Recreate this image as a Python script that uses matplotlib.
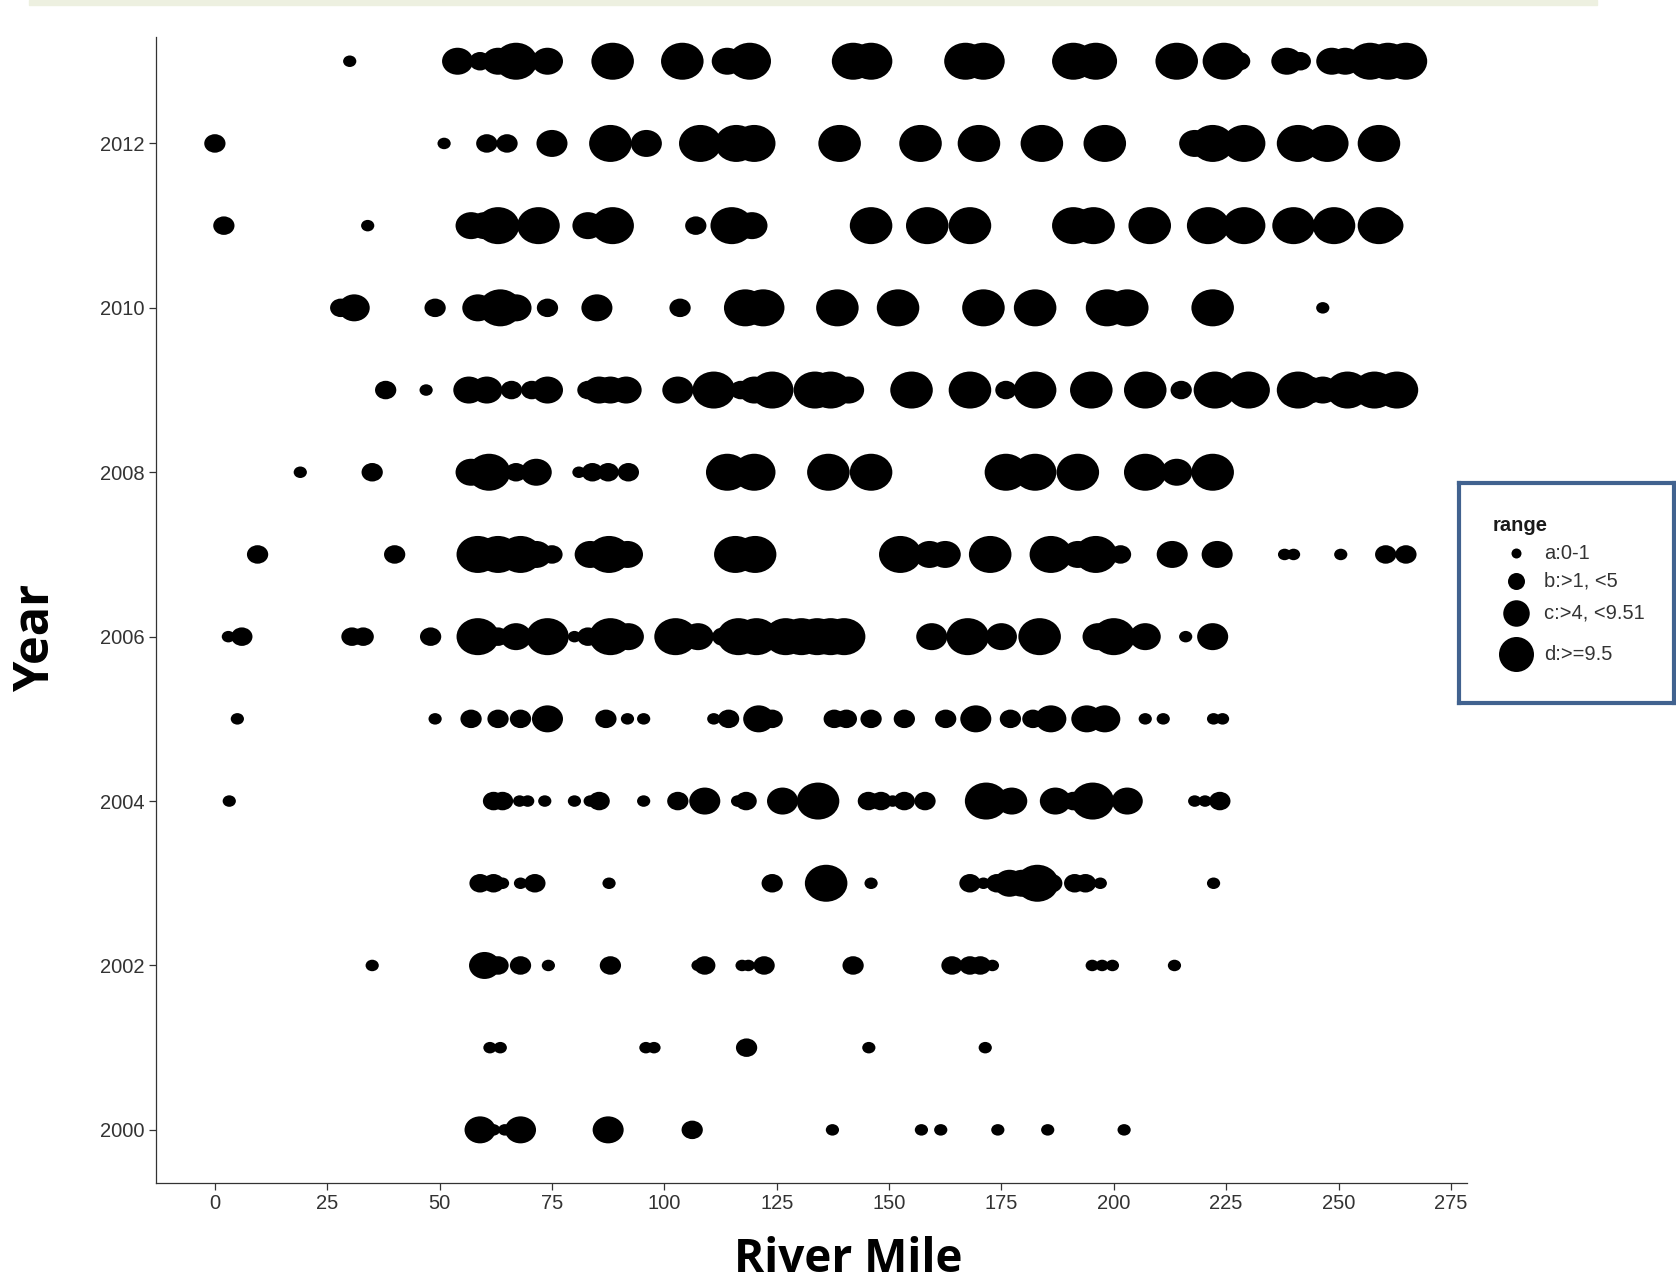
"""Fish counts by river mile and year -- bubble plot recreated in matplotlib."""
import matplotlib
matplotlib.use("Agg")
import matplotlib.pyplot as plt
from matplotlib.patches import Rectangle
from matplotlib.path import Path

# ---- data: river mile of each catch location, grouped by survey year ----
# range code per point: a = 0-1, b = >1 <5, c = >4 <9.51, d = >=9.5
miles_2013 = [30, 54, 59, 63, 67, 74, 88.5, 104, 114, 119,
              142, 146, 167, 171, 191, 196, 214, 224.5,
              228, 238.5, 241.5, 248.5, 251.5, 257, 261, 265]
range_2013 = ["a", "c", "b", "c", "d", "c", "d", "d", "c", "d",
              "d", "d", "d", "d", "d", "d", "d", "d",
              "b", "c", "b", "c", "c", "d", "d", "d"]

miles_2012 = [0, 51, 60.5, 65, 75, 88, 96, 108, 116, 120, 139,
              157, 170, 184, 198, 218, 222, 229, 241, 247.5, 259]
range_2012 = ["b", "a", "b", "b", "c", "d", "c", "d", "d", "d", "d",
              "d", "d", "d", "d", "c", "d", "d", "d", "d", "d"]

miles_2011 = [2, 34, 57, 60, 63, 72, 83, 88.5, 107, 115, 119.5,
              146, 158.5, 168, 191, 195.5, 208, 221, 229, 240, 249, 259, 261]
range_2011 = ["b", "a", "c", "c", "d", "d", "c", "d", "b", "d", "c",
              "d", "d", "d", "d", "d", "d", "d", "d", "d", "d", "d", "c"]

miles_2010 = [28, 31, 49, 58.5, 63.5, 67, 74, 85, 103.5, 118,
              122, 138.5, 152, 171, 182.5, 198.5, 203, 222, 246.5]
range_2010 = ["b", "c", "b", "c", "d", "c", "b", "c", "b", "d",
              "d", "d", "d", "d", "d", "d", "d", "d", "a"]

miles_2009 = [38, 47, 56.5, 60.5, 66, 70.5, 74, 83, 85.5, 88, 91.5, 103,
              111, 117, 120, 124, 133.5, 137, 141, 155, 168, 176, 182.5,
              195, 207, 215, 222.5, 230, 241, 243.5, 246.5, 252, 258, 263]
range_2009 = ["b", "a", "c", "c", "b", "b", "c", "b", "c", "c", "c", "c",
              "d", "b", "c", "d", "d", "d", "c", "d", "d", "b", "d",
              "d", "d", "b", "d", "d", "d", "c", "c", "d", "d", "d"]

miles_2008 = [19, 35, 57, 61, 67, 71.5, 81, 84, 87.5, 92,
              114, 120, 136.5, 146, 176, 182.5, 192, 207, 214, 222]
range_2008 = ["a", "b", "c", "d", "b", "c", "a", "b", "b", "b",
              "d", "d", "d", "d", "d", "d", "d", "d", "c", "d"]

miles_2007 = [9.5, 40, 58.5, 63, 68, 71.5, 75, 83.5, 87.7, 91.8, 115.8, 120.2,
              152.5, 159, 162.5, 172.5, 186, 192, 196, 201.5, 213, 223,
              238, 240, 250.5, 260.5, 265]
range_2007 = ["b", "b", "d", "d", "d", "c", "b", "c", "d", "c", "d", "d",
              "d", "c", "c", "d", "d", "c", "d", "b", "c", "c",
              "a", "a", "a", "b", "b"]

miles_2006 = [3, 6, 30.5, 33, 48, 58.5, 63, 67, 71, 74, 80, 83, 88, 92, 102.5, 107.5,
              113, 116.5, 120.5, 127, 130.5, 134, 137, 140,
              159.5, 167.5, 175, 183.5, 196.5, 200, 207, 216, 222]
range_2006 = ["a", "b", "b", "b", "b", "d", "b", "c", "b", "d", "a", "b", "d", "c", "d", "c",
              "b", "d", "d", "d", "d", "d", "d", "d",
              "c", "d", "c", "d", "c", "d", "c", "a", "c"]

miles_2005 = [5, 49, 57, 63, 68, 74, 87, 91.8, 95.4, 111, 114.3, 121, 124, 137.8,
              140.5, 146, 153.4, 162.6, 169.3, 177, 182, 186, 194, 198, 207, 211,
              222.2, 224.2]
range_2005 = ["a", "a", "b", "b", "b", "c", "b", "a", "a", "a", "b", "c", "b", "b",
              "b", "b", "b", "b", "c", "b", "b", "c", "c", "c", "a", "a",
              "a", "a"]

miles_2004 = [3.2, 62, 64, 67.8, 69.6, 73.4, 80, 83.5, 85.5, 95.4, 103, 109, 116.3,
              118.2, 126.3, 134.2, 145.4, 148.2, 150.8, 153.4, 158, 171.6, 177.3,
              187, 191, 195.3, 203, 218, 220.3, 223.6]
range_2004 = ["a", "b", "b", "a", "a", "a", "a", "a", "b", "a", "b", "c", "a",
              "b", "c", "d", "b", "b", "a", "b", "b", "d", "c",
              "c", "b", "d", "c", "a", "a", "b"]

miles_2003 = [59, 62, 64, 68, 71.2, 87.7, 124, 136, 146, 168, 171, 174, 176.8,
              179.6, 183, 186.2, 191.3, 193.7, 197, 222.2]
range_2003 = ["b", "b", "a", "a", "b", "a", "b", "d", "a", "b", "a", "b", "c",
              "c", "d", "b", "b", "b", "a", "a"]

miles_2002 = [35, 60, 63, 68, 74.2, 88, 107.5, 109, 117.3, 118.7, 122.2, 142,
              164, 168, 170.3, 173, 195.2, 197.4, 199.7, 213.5]
range_2002 = ["a", "c", "b", "b", "a", "b", "a", "b", "a", "a", "b", "b",
              "b", "b", "b", "a", "a", "a", "a", "a"]

miles_2001 = [61.2, 63.5, 95.9, 97.7, 118.3, 145.5, 171.4]
range_2001 = ["a", "a", "a", "a", "b", "a", "a"]

miles_2000 = [59, 62, 64.5, 68, 87.5, 106.2, 137.4, 157.2, 161.5, 174.2, 185.3, 202.3]
range_2000 = ["c", "a", "a", "c", "c", "b", "a", "a", "a", "a", "a", "a"]

range_codes = ["a", "b", "c", "d"]
range_labels = ["a:0-1", "b:>1, <5", "c:>4, <9.51", "d:>=9.5"]

x_ticks = list(range(0, 276, 25))
y_ticks = list(range(2000, 2013, 2))

survey = {
    2013: (miles_2013, range_2013), 2012: (miles_2012, range_2012),
    2011: (miles_2011, range_2011), 2010: (miles_2010, range_2010),
    2009: (miles_2009, range_2009), 2008: (miles_2008, range_2008),
    2007: (miles_2007, range_2007), 2006: (miles_2006, range_2006),
    2005: (miles_2005, range_2005), 2004: (miles_2004, range_2004),
    2003: (miles_2003, range_2003), 2002: (miles_2002, range_2002),
    2001: (miles_2001, range_2001), 2000: (miles_2000, range_2000),
}

DPI = 100
# marker heights in pixels; the plot panel was stretched sideways, so its dots are ovals
PLOT_H_PX = {"a": 11.5, "b": 18.5, "c": 27, "d": 37}
STRETCH = 1.15
# the legend was pasted in separately and keeps round keys
KEY_D_PX = {"a": 10, "b": 17, "c": 26.5, "d": 35}

circle = Path.unit_circle()
oval = Path(circle.vertices * [STRETCH, 1.0], circle.codes)


def area(px):
    # scatter size is the square of the marker's largest extent in points
    return (px * 72 / DPI) ** 2


W, H = 1676, 1282
fig = plt.figure(figsize=(W / DPI, H / DPI), dpi=DPI)
fig.patch.set_facecolor("white")

# faint strip along the top edge of the slide
fig.patches.append(Rectangle((29 / W, 1 - 5 / H), (1597 - 29) / W, 5 / H,
                             transform=fig.transFigure, color="#EDF0E0", zorder=0))

ax_l, ax_r, ax_t, ax_b = 156, 1466.6, 37.4, 1183.3
ax = fig.add_axes([ax_l / W, 1 - ax_b / H, (ax_r - ax_l) / W, (ax_b - ax_t) / H])

for year, (miles, codes) in survey.items():
    assert len(miles) == len(codes), year
    ax.scatter(miles, [year] * len(miles),
               s=[area(PLOT_H_PX[c] * STRETCH) for c in codes],
               marker=oval, c="black", linewidths=0, zorder=3)

ax.set_xlim(-13.1, 278.5)
ax.set_ylim(1999.35, 2013.29)
ax.set_xticks(x_ticks)
ax.set_yticks(y_ticks)
for side in ("top", "right"):
    ax.spines[side].set_visible(False)
for side in ("left", "bottom"):
    ax.spines[side].set_color("#333333")
    ax.spines[side].set_linewidth(0.9)
ax.tick_params(axis="both", length=5, width=0.9, color="#333333", pad=3,
               labelsize=14.5, labelcolor="#333333")
for lab in ax.get_xticklabels() + ax.get_yticklabels():
    lab.set_fontfamily("Liberation Sans")

label_font = dict(family="Open Sans", weight="bold", color="black")
fig.text(848 / W, 1 - 1259 / H, "River Mile", ha="center", va="center",
         size=33, **label_font)
fig.text(37 / W, 1 - 638 / H, "Year", ha="center", va="center", rotation=90,
         size=35, **label_font)

# ---- hand-built legend box (border runs to the right edge) ----
lg_l, lg_r, lg_t, lg_b = 1459, 1674, 483, 703
lax = fig.add_axes([lg_l / W, 1 - lg_b / H, (lg_r - lg_l) / W, (lg_b - lg_t) / H])
lax.set_xlim(0, lg_r - lg_l)
lax.set_ylim(lg_b - lg_t, 0)
lax.set_xticks([])
lax.set_yticks([])
lax.set_facecolor("white")
for sp in lax.spines.values():
    sp.set_color("#41628F")
    sp.set_linewidth(3)

lax.text(34, 42, "range", fontfamily="Liberation Sans", fontweight="bold",
         fontsize=14.5, color="#1a1a1a", va="center", ha="left")
key_y = 70
prev_h = None
for code, label in zip(range_codes, range_labels):
    h = max(28, 1.35 * KEY_D_PX[code])
    if prev_h is not None:
        key_y += (prev_h + h) / 2
    prev_h = h
    lax.scatter([57], [key_y], s=area(KEY_D_PX[code]), c="black", linewidths=0)
    lax.text(85, key_y, label, fontfamily="Liberation Sans", fontsize=14.5,
             color="#333333", va="center", ha="left")

fig.savefig("out.png", dpi=DPI)
print("Wrote out.png")
